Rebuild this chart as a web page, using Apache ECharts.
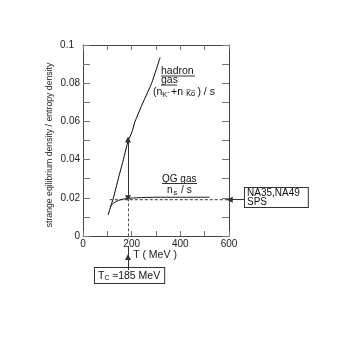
<!DOCTYPE html>
<html>
<head>
<meta charset="utf-8">
<script src="https://cdn.jsdelivr.net/npm/echarts@6/dist/echarts.min.js"></script>
<style>
html,body{margin:0;padding:0;background:#fff;}
#chart{width:354px;height:354px;}
</style>
</head>
<body>
<div id="chart"></div>
<script>
// hadron gas curve (nK- + nK0bar)/s
var hadronT = [103, 125, 145, 166, 186, 200, 214, 247, 282, 317];
var hadronV = [0.011, 0.02, 0.03, 0.04, 0.05, 0.054, 0.06, 0.07, 0.08, 0.0935];
// QG gas curve ns/s
var qgT = [111, 125, 145, 165, 186, 220, 260, 320, 400, 520];
var qgV = [0.0153, 0.0172, 0.0186, 0.0193, 0.0197, 0.02, 0.0202, 0.0203, 0.0203, 0.0203];
// NA35/NA49 SPS level (dashed)
var spsT = [110, 600];
var spsV = [0.019, 0.019];
// critical temperature and the arrow between the two curves
var tc = 185;
var gapV = [0.0197, 0.0505];
// Tc pointer below the axis: box top, arrow tip, top of shaft, end of dashed guide
var tcPtrV = [-0.0178, -0.011, -0.0052, -0.0016];
// SPS pointer: from the box to the right axis
var spsPtrT = [666, 603];
// tick labels
var xLabels = [0, 200, 400, 600];
var yLabels = ['0', '0.02', '0.04', '0.06', '0.08', '0.1'];

function pairs(xs, ys) {
    return xs.map(function (x, i) { return [x, ys[i]]; });
}

var FONT = 'Liberation Sans, Arial, Helvetica, sans-serif';
var axisCol = '#444';
var tickCol = '#777';

var chart = echarts.init(document.getElementById('chart'));

function xAx(pos) {
    return {
        type: 'value', position: pos, min: 0, max: 600, interval: 100,
        axisLine: { show: true, onZero: false, lineStyle: { color: axisCol, width: 1 } },
        axisTick: { show: true, inside: true, length: 5, lineStyle: { color: tickCol } },
        axisLabel: {
            show: pos === 'bottom', margin: 3, fontSize: 10, fontFamily: FONT, color: '#222',
            formatter: function (v) { return xLabels.indexOf(v) >= 0 ? String(v) : ''; }
        },
        splitLine: { show: false }
    };
}
function yAx(pos) {
    return {
        type: 'value', position: pos, min: 0, max: 0.1, interval: 0.01,
        axisLine: { show: true, onZero: false, lineStyle: { color: axisCol, width: 1 } },
        axisTick: { show: true, inside: true, length: 7, lineStyle: { color: tickCol } },
        axisLabel: {
            show: pos === 'left', margin: 3, fontSize: 10, fontFamily: FONT, color: '#222',
            formatter: function (v) {
                var k = Math.round(v * 100);
                if (k % 2) return '';
                return k === 10 ? '{p|' + yLabels[5] + '}' : yLabels[k / 2];
            },
            rich: { p: { fontSize: 10, fontFamily: FONT, color: '#222', padding: [0, 6, 0, 0] } }
        },
        splitLine: { show: false }
    };
}

var arrowLine = { color: '#333', width: 1, type: 'solid', opacity: 1, curveness: 0 };
var dashLine = { color: '#555', width: 1, type: [3, 2], opacity: 1, curveness: 0 };

function arrows(symbol, items, style) {
    return {
        type: 'lines', coordinateSystem: 'cartesian2d', clip: false, silent: true,
        symbol: symbol, symbolSize: 6, lineStyle: style, z: 5,
        data: items.map(function (c) { return { coords: c }; })
    };
}

var option = {
    animation: false,
    grid: { left: 83, top: 45, width: 146, height: 191 },
    xAxis: [xAx('bottom'), xAx('top')],
    yAxis: [yAx('left'), yAx('right')],
    series: [
        {
            type: 'line', data: pairs(hadronT, hadronV), smooth: 0.2, showSymbol: false,
            lineStyle: { color: '#000', width: 1 }, silent: true
        },
        {
            type: 'line', data: pairs(qgT, qgV), smooth: 0.3, showSymbol: false,
            lineStyle: { color: '#111', width: 1 }, silent: true
        },
        {
            type: 'line', data: pairs(spsT, spsV), showSymbol: false,
            lineStyle: { color: '#333', width: 1, type: [3, 2] }, silent: true
        },
        // double arrow between the curves at Tc
        arrows(['triangle', 'triangle'], [[[tc, gapV[0]], [tc, gapV[1]]]], arrowLine),
        // pointers ending in an arrow head
        arrows(['none', 'triangle'], [
            [[tc, tcPtrV[0]], [tc, tcPtrV[1]]],
            [[spsPtrT[0], spsV[1]], [spsPtrT[1], spsV[1]]]
        ], arrowLine),
        // plain shaft above the Tc arrow head
        arrows(['none', 'none'], [[[tc, tcPtrV[1]], [tc, tcPtrV[2]]]], arrowLine),
        // dashed guide at Tc
        arrows(['none', 'none'], [[[tc, gapV[0]], [tc, tcPtrV[3]]]], dashLine)
    ],
    graphic: [
        // axis titles
        {
            type: 'text', x: 50, y: 145, rotation: Math.PI / 2,
            style: { text: 'strange eqilibrium density / entropy density', font: '8.7px ' + FONT,
                     fill: '#222', align: 'center', verticalAlign: 'middle' }
        },
        {
            type: 'text', x: 155, y: 255,
            style: { text: 'T ( MeV )', font: '10.5px ' + FONT, fill: '#222',
                     align: 'center', verticalAlign: 'middle' }
        },
        // hadron gas label
        { type: 'text', x: 161, y: 71, style: { text: 'hadron', font: '10.5px ' + FONT, fill: '#111', verticalAlign: 'middle' } },
        { type: 'line', shape: { x1: 161, y1: 76, x2: 195, y2: 76 }, style: { stroke: '#333', lineWidth: 1 } },
        { type: 'text', x: 161, y: 80.5, style: { text: 'gas', font: '10.5px ' + FONT, fill: '#111', verticalAlign: 'middle' } },
        { type: 'line', shape: { x1: 161, y1: 85, x2: 177, y2: 85 }, style: { stroke: '#333', lineWidth: 1 } },
        {
            type: 'text', x: 153, y: 92,
            style: {
                text: '{a|(n}{s|K}{m|-}{a|+n }{o|K\u0305o\u0305}{a|) / s}',
                verticalAlign: 'middle',
                rich: {
                    a: { font: '10.5px ' + FONT, fill: '#111' },
                    s: { font: '7.5px ' + FONT, fill: '#111', padding: [5, 0, 0, 0] },
                    m: { font: '8px ' + FONT, fill: '#111', padding: [0, 1, 1, 0] },
                    o: { font: '7.5px DejaVu Sans, ' + FONT, fill: '#111', padding: [4, 2, 0, 0] }
                }
            }
        },
        // QG gas label
        { type: 'text', x: 162, y: 179, style: { text: 'QG gas', font: '10px ' + FONT, fill: '#111', verticalAlign: 'middle' } },
        { type: 'line', shape: { x1: 162, y1: 183.5, x2: 197, y2: 183.5 }, style: { stroke: '#333', lineWidth: 1 } },
        {
            type: 'text', x: 167, y: 190,
            style: {
                text: '{a|n}{s|s}{a| / s}', verticalAlign: 'middle',
                rich: {
                    a: { font: '10px ' + FONT, fill: '#111' },
                    s: { font: '7.5px ' + FONT, fill: '#111', padding: [5, 1, 0, 1] }
                }
            }
        },
        // NA35,NA49 SPS box
        {
            type: 'text', x: 245, y: 188,
            style: {
                text: 'NA35,NA49\nSPS', font: '10px ' + FONT, fill: '#111', lineHeight: 9,
                verticalAlign: 'top', padding: [1, 8, 0, 2],
                borderColor: '#333', borderWidth: 1, backgroundColor: '#fff'
            }
        },
        // Tc box
        {
            type: 'text', x: 95, y: 268,
            style: {
                text: '{a|T}{s|C}{a| \u2248185 MeV}', verticalAlign: 'top',
                padding: [2, 4, 1, 3], borderColor: '#333', borderWidth: 1, backgroundColor: '#fff',
                rich: {
                    a: { font: '10.5px ' + FONT, fill: '#111' },
                    s: { font: '7px ' + FONT, fill: '#111', padding: [5, 0, 0, 0] }
                }
            }
        }
    ]
};

chart.setOption(option);
window.addEventListener('resize', function () { chart.resize(); });
</script>
</body>
</html>
